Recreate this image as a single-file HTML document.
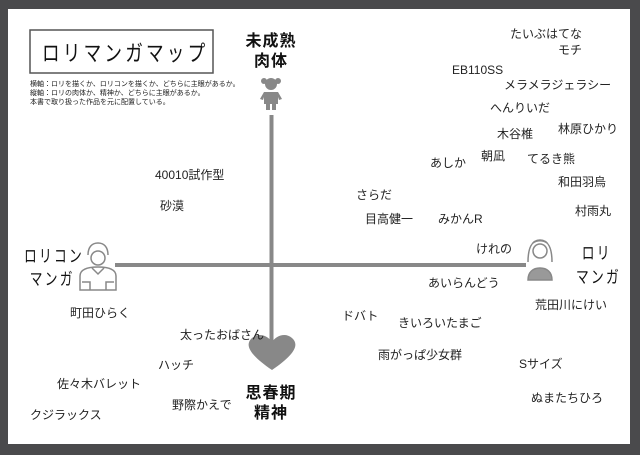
<!DOCTYPE html>
<html><head><meta charset="utf-8"><style>
body{margin:0;width:640px;height:455px;background:#4a4a4c;position:relative;overflow:hidden;font-family:"Liberation Sans","Noto Sans CJK JP",sans-serif;}
#p{position:absolute;left:8px;top:9px;width:622px;height:435px;background:#fff;}
.t{position:absolute;font-size:12px;color:#222;white-space:nowrap;line-height:14px;}
.b{position:absolute;font-weight:bold;font-size:16px;color:#111;line-height:20px;text-align:center;letter-spacing:1px;}
.m{position:absolute;font-size:17px;color:#111;line-height:23px;letter-spacing:3px;transform-origin:0 0;transform:scaleX(0.75);white-space:nowrap;}
</style></head><body>
<div id="p"></div>
<svg width="640" height="455" style="position:absolute;left:0;top:0">
<rect x="30" y="30" width="183" height="43" fill="none" stroke="#555" stroke-width="1.5"/>
<line x1="271.5" y1="115" x2="271.5" y2="345" stroke="#888" stroke-width="4"/>
<line x1="115" y1="265" x2="526" y2="265" stroke="#888" stroke-width="4"/>
<g fill="#888"><circle cx="271" cy="84" r="6"/><circle cx="264" cy="81" r="3"/><circle cx="278" cy="81" r="3"/><path d="M264 92h14l4 7-3 1-1-3v7h-14v-7l-1 3-3-1z"/><rect x="266" y="104" width="4" height="6"/><rect x="272" y="104" width="4" height="6"/></g>
<path d="M272 370 C250 355 244 345 252 338 C259 332 268 336 272 342 C276 336 285 332 292 338 C300 345 294 355 272 370Z" fill="#888"/>
<g fill="none" stroke="#888" stroke-width="1.5"><path d="M88 255c0-8 4-12 10-12s10 4 10 12"/><circle cx="98" cy="258" r="7"/><path d="M80 290v-14c0-6 6-9 18-9s18 3 18 9v14z"/><path d="M92 268l6 6 6-6"/><path d="M82 282h8v8M114 282h-8v8"/></g>
<g fill="none" stroke="#888" stroke-width="1.5"><path d="M528 262c0-14 4-22 12-22s12 8 12 22"/><circle cx="540" cy="251" r="7"/><path d="M528 280c0-8 5-12 12-12s12 4 12 12z" fill="#999"/><path d="M533 243c4-3 10-3 14 0"/></g>
</svg>
<div class="m" style="left:42px;top:40px;font-size:22px;line-height:28px;letter-spacing:4px;transform:scaleX(0.8)">ロリマンガマップ</div>
<div class="t" style="left:30px;top:80px;font-size:7px;line-height:9px">横軸：ロリを描くか、ロリコンを描くか、どちらに主眼があるか。<br>縦軸：ロリの肉体か、精神か、どちらに主眼があるか。<br>本書で取り扱った作品を元に配置している。</div>
<div class="b" style="left:238px;top:32px;width:66px">未成熟<br>肉体</div>
<div class="b" style="left:238px;top:384px;width:66px">思春期<br>精神</div>
<div class="m" style="left:24px;top:245px">ロリコン<br>&nbsp;マンガ</div>
<div class="m" style="left:576px;top:242px;line-height:24px">&nbsp;ロリ<br>マンガ</div>
<div class="t" style="left:510px;top:27px">たいぶはてな</div>
<div class="t" style="left:558px;top:43px">モチ</div>
<div class="t" style="left:452px;top:63px">EB110SS</div>
<div class="t" style="left:504px;top:78px">メラメラジェラシー</div>
<div class="t" style="left:490px;top:101px">へんりいだ</div>
<div class="t" style="left:497px;top:127px">木谷椎</div>
<div class="t" style="left:558px;top:122px">林原ひかり</div>
<div class="t" style="left:481px;top:149px">朝凪</div>
<div class="t" style="left:430px;top:156px">あしか</div>
<div class="t" style="left:527px;top:152px">てるき熊</div>
<div class="t" style="left:558px;top:175px">和田羽烏</div>
<div class="t" style="left:155px;top:168px">40010試作型</div>
<div class="t" style="left:160px;top:199px">砂漠</div>
<div class="t" style="left:356px;top:188px">さらだ</div>
<div class="t" style="left:365px;top:212px">目高健一</div>
<div class="t" style="left:438px;top:212px">みかんR</div>
<div class="t" style="left:575px;top:204px">村雨丸</div>
<div class="t" style="left:476px;top:242px">けれの</div>
<div class="t" style="left:428px;top:276px">あいらんどう</div>
<div class="t" style="left:535px;top:298px">荒田川にけい</div>
<div class="t" style="left:70px;top:306px">町田ひらく</div>
<div class="t" style="left:180px;top:328px">太ったおばさん</div>
<div class="t" style="left:342px;top:309px">ドバト</div>
<div class="t" style="left:398px;top:316px">きいろいたまご</div>
<div class="t" style="left:378px;top:348px">雨がっぱ少女群</div>
<div class="t" style="left:158px;top:358px">ハッチ</div>
<div class="t" style="left:519px;top:357px">Sサイズ</div>
<div class="t" style="left:57px;top:377px">佐々木バレット</div>
<div class="t" style="left:531px;top:391px">ぬまたちひろ</div>
<div class="t" style="left:172px;top:398px">野際かえで</div>
<div class="t" style="left:30px;top:408px">クジラックス</div>
</body></html>
